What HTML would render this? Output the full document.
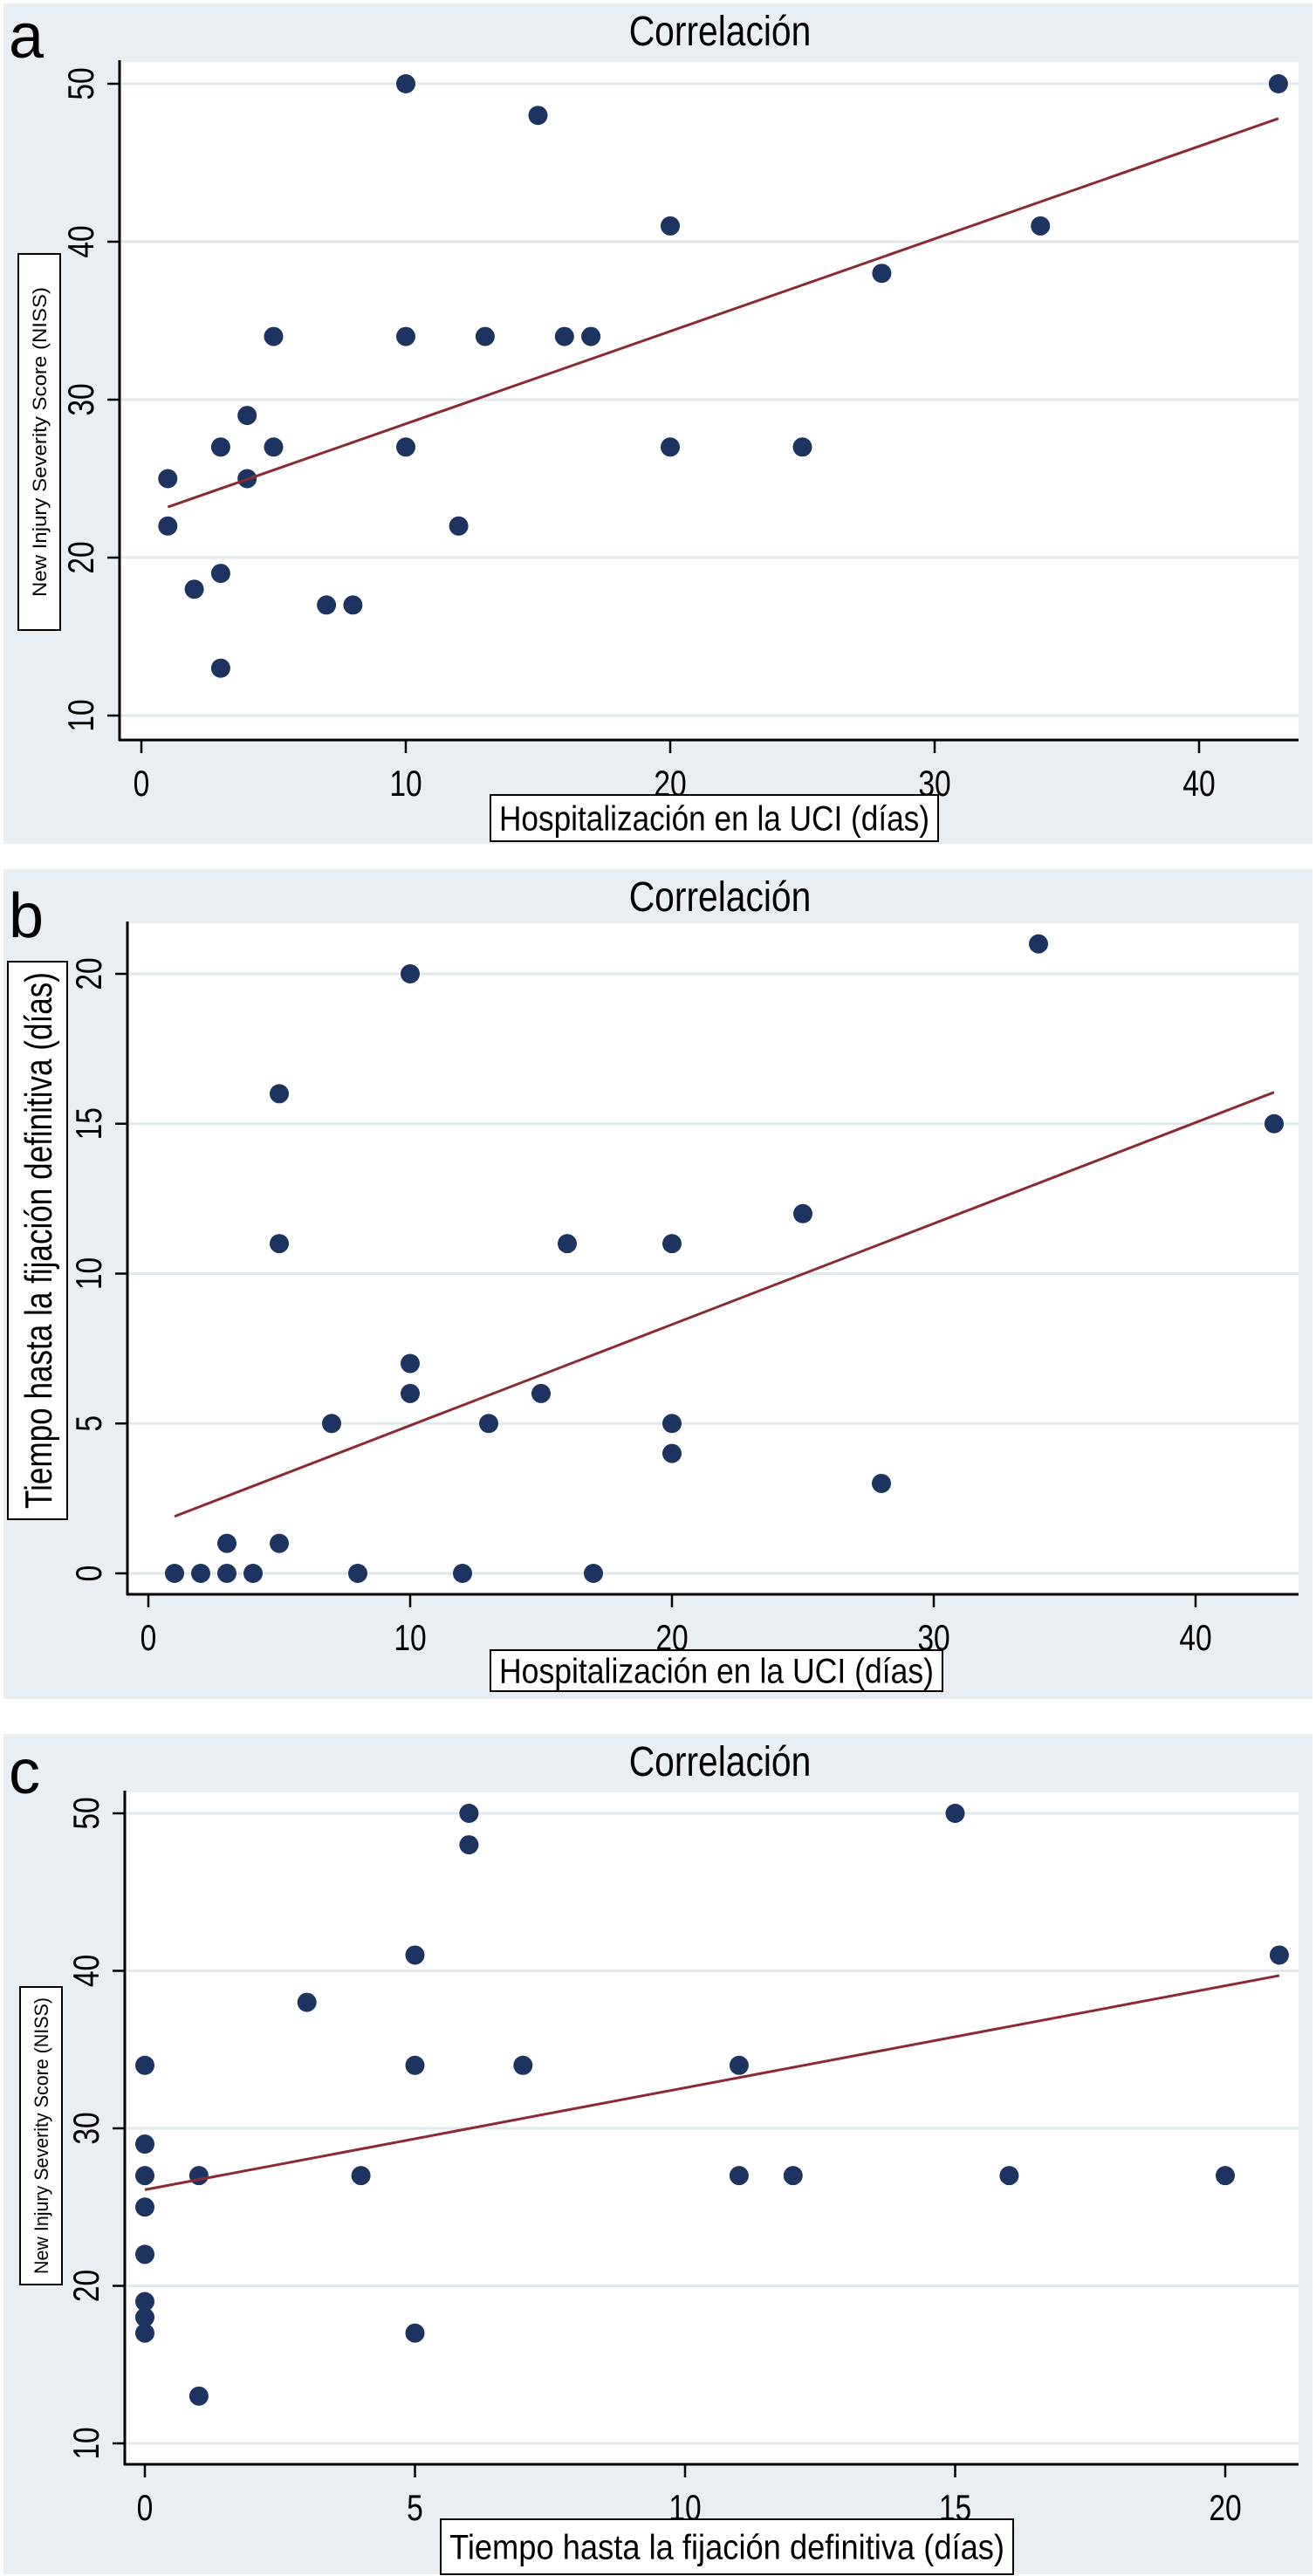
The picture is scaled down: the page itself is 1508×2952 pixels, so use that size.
<!DOCTYPE html>
<html><head><meta charset="utf-8"><style>
html,body{margin:0;padding:0;background:#fff;}
svg{display:block;}
text{font-family:"Liberation Sans",sans-serif;fill:#000;}
</style></head><body>
<svg id="fig" width="1508" height="2952" viewBox="0 0 1508 2952" xmlns="http://www.w3.org/2000/svg"></svg>
<script>
// Panel a: ICU days vs NISS
const aX = [1,1,2,3,3,3,4,4,5,5,7,8,10,10,10,12,13,15,16,17,20,20,25,28,34,43];
const aY = [25,22,18,27,19,13,29,25,34,27,17,17,50,34,27,22,34,48,34,34,41,27,27,38,41,50];
const aFitX = [1,43];
const aFitY = [23.2,47.8];
const aXTicks = [0,10,20,30,40];
const aYTicks = [10,20,30,40,50];
// Panel b: ICU days vs time to definitive fixation
const bX = [1,2,3,3,4,5,5,5,7,8,10,10,10,12,13,15,16,17,20,20,20,25,28,34,43];
const bY = [0,0,1,0,0,16,11,1,5,0,20,7,6,0,5,6,11,0,11,5,4,12,3,21,15];
const bFitX = [1,43];
const bFitY = [1.9,16.05];
const bXTicks = [0,10,20,30,40];
const bYTicks = [0,5,10,15,20];
// Panel c: time to fixation vs NISS
const cX = [0,0,0,0,0,0,0,0,1,1,3,4,5,5,5,6,6,7,11,11,12,15,16,20,21];
const cY = [34,29,27,25,22,19,18,17,27,13,38,27,41,34,17,50,48,34,34,27,27,50,27,27,41];
const cFitX = [0,21];
const cFitY = [26.1,39.7];
const cXTicks = [0,5,10,15,20];
const cYTicks = [10,20,30,40,50];

const NS="http://www.w3.org/2000/svg";
const svg=document.getElementById('fig');
function mk(tag,attrs,parent){const e=document.createElementNS(NS,tag);for(const k in attrs)e.setAttribute(k,attrs[k]);(parent||svg).appendChild(e);return e;}

function panel(cfg){
  const g=mk('g',{});
  
  
  const bg=mk('rect',{x:4,y:cfg.bgTop,width:1500,height:cfg.bgBot-cfg.bgTop,fill:'#e8eef1'},g);
  
  
  const pa=mk('rect',{x:cfg.L,y:cfg.T,width:cfg.R-cfg.L,height:cfg.B-cfg.T,fill:'#fff'},g);
  
  
  const sx=v=>cfg.x0+(v-cfg.xs)*cfg.xu;
  const sy=v=>cfg.y0-(v-cfg.ys)*cfg.yu;
  cfg.yt.forEach(t=>{
    const y=sy(t);
    const gl=mk('line',{x1:cfg.L+2,x2:cfg.R,y1:y,y2:y,stroke:'#e2e9ec','stroke-width':3},g);
    
    
    const tk=mk('line',{x1:cfg.L-14,x2:cfg.L,y1:y,y2:y,stroke:'#000','stroke-width':2.5},g);
    
    
    const tl=mk('text',{x:0,y:0,'font-size':42,'text-anchor':'middle',transform:`translate(${cfg.L-30},${y}) rotate(-90) scale(0.8,1)`},g);
    tl.textContent=t;
    
    
  });
  cfg.xt.forEach(t=>{
    const x=sx(t);
    const tk=mk('line',{x1:x,x2:x,y1:cfg.B,y2:cfg.B+15,stroke:'#000','stroke-width':2.5},g);
    
    
    const tl=mk('text',{x:0,y:0,'font-size':42,'text-anchor':'middle',transform:`translate(${x},${cfg.B+64}) scale(0.8,1)`},g);
    tl.textContent=t;
    
    
  });
  const ax1=mk('line',{x1:cfg.L,x2:cfg.L,y1:cfg.T-2,y2:cfg.B+1,stroke:'#000','stroke-width':3},g);
  
  
  const ax2=mk('line',{x1:cfg.L-1,x2:cfg.R,y1:cfg.B,y2:cfg.B,stroke:'#000','stroke-width':3},g);
  
  
  cfg.X.forEach((v,i)=>{
    const c=mk('circle',{cx:sx(v),cy:sy(cfg.Y[i]),r:11,fill:'#1d3461'},g);
    
    
  });
  const fl=mk('line',{x1:sx(cfg.fx[0]),y1:sy(cfg.fy[0]),x2:sx(cfg.fx[1]),y2:sy(cfg.fy[1]),stroke:'#8b2a35','stroke-width':3},g);
  
  
  const tt=mk('text',{x:0,y:0,'font-size':48,'text-anchor':'middle',transform:`translate(825,${cfg.bgTop+48}) scale(0.85,1)`},g);
  tt.textContent='Correlación';
  
  
  const lt=mk('text',{x:10,y:cfg.bgTop+cfg.letterY,'font-size':72},g);
  lt.textContent=cfg.id;
  
  
  const xb=cfg.xbox;
  const xr=mk('rect',{x:xb[0],y:xb[1],width:xb[2]-xb[0],height:xb[3]-xb[1],fill:'#fff',stroke:'#000','stroke-width':2},g);
  
  
  const xtx=mk('text',{x:xb[0]+10,y:(xb[1]+xb[3])/2+14,'font-size':40,textLength:xb[2]-xb[0]-20,lengthAdjust:'spacingAndGlyphs'},g);
  xtx.textContent=cfg.xtitle;
  
  
  const yb=cfg.ybox;
  const yr=mk('rect',{x:yb[0],y:yb[1],width:yb[2]-yb[0],height:yb[3]-yb[1],fill:'#fff',stroke:'#000','stroke-width':2},g);
  
  
  const cx=(yb[0]+yb[2])/2, cy=(yb[1]+yb[3])/2;
  const L=yb[3]-yb[1]-cfg.ypad*2;
  const ytx=mk('text',{x:-L/2,y:cfg.yfs*0.36,'font-size':cfg.yfs,textLength:L,lengthAdjust:'spacingAndGlyphs',transform:`translate(${cx},${cy}) rotate(-90)`},g);
  ytx.textContent=cfg.ytitle;
  
  
}

panel({id:'a',bgTop:4,bgBot:967,L:137,T:71,R:1488,B:848,x0:162,xs:0,xu:30.3,y0:96,ys:50,yu:18.1,
  X:aX,Y:aY,fx:aFitX,fy:aFitY,xt:aXTicks,yt:aYTicks,letterY:62,
  xbox:[562,911,1075,964],xtitle:'Hospitalización en la UCI (días)',
  ybox:[21,291,69,722],ytitle:'New Injury Severity Score (NISS)',yfs:22,ypad:38});
panel({id:'b',bgTop:996,bgBot:1947,L:146,T:1058,R:1488,B:1827,x0:170,xs:0,xu:30.0,y0:1803,ys:0,yu:34.35,
  X:bX,Y:bY,fx:bFitX,fy:bFitY,xt:bXTicks,yt:bYTicks,letterY:78,
  xbox:[562,1891,1080,1938],xtitle:'Hospitalización en la UCI (días)',
  ybox:[9,1102,77,1741],ytitle:'Tiempo hasta la fijación definitiva (días)',yfs:44,ypad:12});
panel({id:'c',bgTop:1987,bgBot:2950,L:143,T:2054,R:1488,B:2824,x0:166,xs:0,xu:61.9,y0:2800,ys:10,yu:18.05,
  X:cX,Y:cY,fx:cFitX,fy:cFitY,xt:cXTicks,yt:cYTicks,letterY:68,
  xbox:[505,2887,1161,2950],xtitle:'Tiempo hasta la fijación definitiva (días)',
  ybox:[23,2277,71,2618],ytitle:'New Injury Severity Score (NISS)',yfs:22,ypad:12});
</script>
</body></html>
